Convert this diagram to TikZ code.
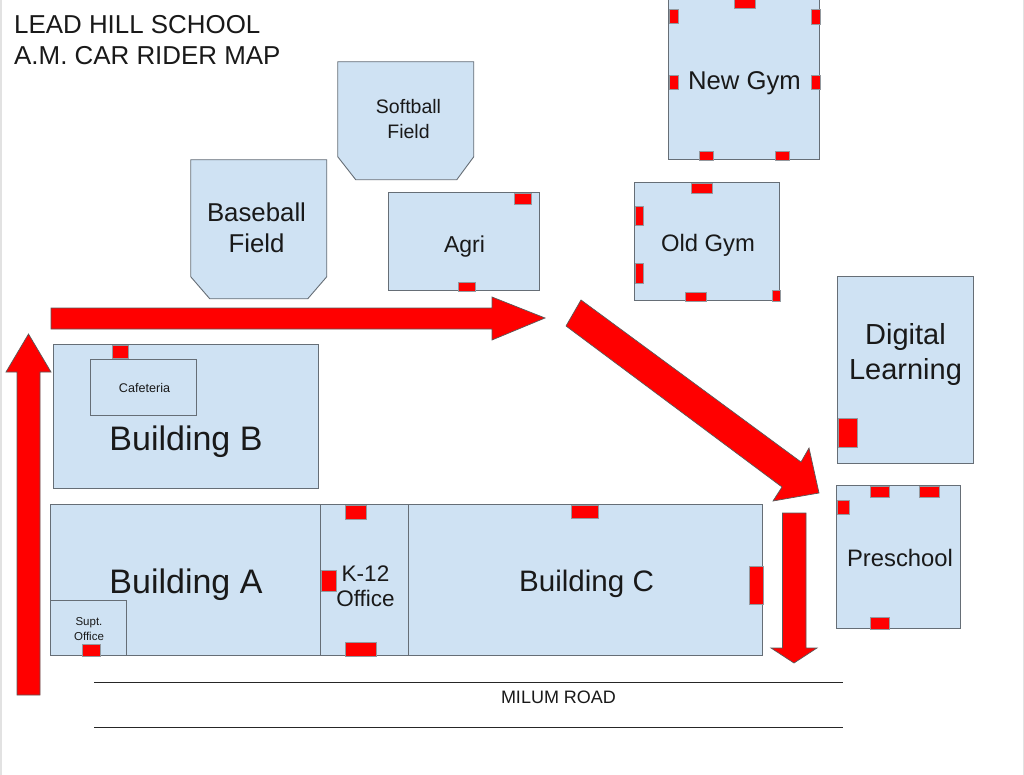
\documentclass[tikz,border=0pt]{standalone}
\usepackage{fontspec}
\setmainfont{Liberation Sans}
\definecolor{bldgblue}{HTML}{CFE2F3}
\definecolor{edgegray}{HTML}{666E76}
\definecolor{stripgray}{HTML}{E2E2E2}
\tikzset{
  bldg/.style={draw=edgegray,line width=0.9pt,fill=bldgblue},
  door/.style={draw=edgegray!70,line width=0.4pt,fill=red},
  bigarrow/.style={draw=black!65,line width=0.7pt,fill=red,line join=miter},
  road/.style={draw=black!85,line width=0.9pt},
  label/.style={align=center,inner sep=0pt,text=black!90},
}
\newcommand{\fs}[1]{\fontsize{#1}{1.2\dimexpr #1pt\relax}\selectfont}
\begin{document}
\begin{tikzpicture}[x=1pt,y=-1pt]
\useasboundingbox (0,0) rectangle (1024,775);
\clip (0,0) rectangle (1024,775);
\fill [white] (0,0) rectangle (1024,775);
\fill [stripgray] (0,0) rectangle (1.5,775);
\fill [stripgray] (1022.5,0) rectangle (1024,775);
\begin{scope}[shift={(-0.25,-0.25)}]
% sports fields
\draw [bldg] (338,62) -- (474,62) -- (474,157) -- (457,180) -- (356,180) -- (338,157) -- cycle;
\draw [bldg] (191,160) -- (327,160) -- (327,277) -- (308,299) -- (210,299) -- (191,277) -- cycle;
% upper buildings
\draw [bldg] (389,193) rectangle (540,291);
\draw [door] (514,193) rectangle (531,204);
\draw [door] (458,282) rectangle (475,291);
\draw [bldg] (669,-5) rectangle (820,160);
\draw [door] (734,-5) rectangle (755,8);
\draw [door] (669,9.5) rectangle (678,23);
\draw [door] (669,75) rectangle (678,89);
\draw [door] (811,9) rectangle (820,24);
\draw [door] (811,75) rectangle (820,89);
\draw [door] (699,151) rectangle (713,160);
\draw [door] (775,151) rectangle (789,160);
\draw [bldg] (635,183) rectangle (780,301);
\draw [door] (691,183) rectangle (712,193);
\draw [door] (635,206) rectangle (643,225);
\draw [door] (635,263) rectangle (643,283);
\draw [door] (685,292) rectangle (706,301);
\draw [door] (772,290) rectangle (780,301);
\draw [bldg] (838,277) rectangle (974,464);
\draw [door] (838,418) rectangle (857,447);
\draw [bldg] (837,486) rectangle (961,629);
\draw [door] (870,486) rectangle (889,497);
\draw [door] (919,486) rectangle (939,497);
\draw [door] (837,500) rectangle (849,514);
\draw [door] (870,617) rectangle (889,629);
% main buildings
\draw [bldg] (54,345) rectangle (319,489);
\draw [door] (112,345.5) rectangle (128,358);
\draw [bldg] (91,360) rectangle (197,416);
\draw [bldg] (51,505) rectangle (321,656);
\draw [bldg] (51,601) rectangle (127,656);
\draw [door] (82,644) rectangle (100,656);
\draw [bldg] (321,505) rectangle (409,656);
\draw [door] (345,505) rectangle (366,519);
\draw [door] (321,570) rectangle (336,591);
\draw [door] (345,642) rectangle (376,656);
\draw [bldg] (409,505) rectangle (763,656);
\draw [door] (571,505) rectangle (598,518);
\draw [door] (749,566) rectangle (763,604);
\end{scope}
% traffic arrows
\draw [bigarrow] (17,695) -- (17,372) -- (6,372) -- (28.5,334) -- (51,372) -- (40,372) -- (40,695) -- cycle;
\draw [bigarrow] (51,308) -- (492,308) -- (492,297) -- (545,318) -- (492,340) -- (492,329) -- (51,329) -- cycle;
\draw [bigarrow] (581,300) -- (801,462) -- (809,448) -- (819,493) -- (773,501) -- (782,487) -- (566,326) -- cycle;
\draw [bigarrow] (782.5,513) -- (806,513) -- (806,648) -- (817,648) -- (794,663) -- (771,648) -- (782.5,648) -- cycle;
% road
\draw [road] (94,682.5) -- (843,682.5);
\draw [road] (94,727) -- (843,727);
% labels
\node [label,anchor=west,align=left,font=\fs{25.9}] (title) at (14,40) {LEAD HILL SCHOOL\\[-0.2pt]A.M. CAR RIDER MAP};
\node [label,font=\fs{19.5}] (softball) at (408.5,119) {Softball\\[2pt]Field};
\node [label,font=\fs{25.8}] (baseball) at (256.5,228) {Baseball\\Field};
\node [label,font=\fs{23}] (agri) at (464.5,247) {Agri};
\node [label,font=\fs{25.7}] (newgym) at (744.5,83.5) {New Gym};
\node [label,font=\fs{23.8}] (oldgym) at (708,245) {Old Gym};
\node [label,font=\fs{29}] (digital) at (905.5,354.5) {Digital\\[1pt]Learning};
\node [label,font=\fs{23.8}] (preschool) at (900,558) {Preschool};
\node [label,font=\fs{12.6}] (cafeteria) at (144.5,388) {Cafeteria};
\node [label,font=\fs{34}] (buildingb) at (186,442) {Building B};
\node [label,font=\fs{34}] (buildinga) at (186,584.5) {Building A};
\node [label,font=\fs{22.5}] (k12) at (365.5,586) {K-12\\[-1.5pt]Office};
\node [label,font=\fs{29.6}] (buildingc) at (586.5,584) {Building C};
\node [label,font=\fs{11.5}] (supt) at (89,629) {Supt.\\[1.5pt]Office};
\node [label,font=\fs{18}] (milum) at (558.5,697) {MILUM ROAD};
\end{tikzpicture}
\end{document}
